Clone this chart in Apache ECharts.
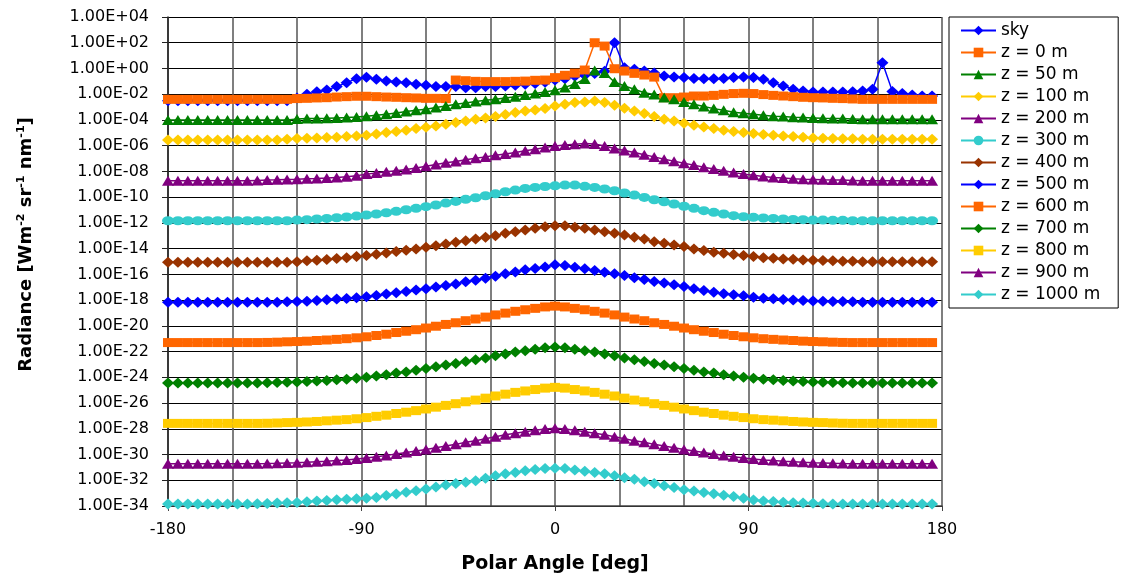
<!DOCTYPE html>
<html><head><meta charset="utf-8">
<script src="https://cdn.jsdelivr.net/npm/echarts@6/dist/echarts.min.js"></script>
<style>html,body{margin:0;padding:0;background:#fff}#c{width:1121px;height:579px}</style>
</head><body><div id="c"></div>
<script>
// Polar angle of every sample [deg]
const angles = [-180,-175.38,-170.77,-166.15,-161.54,-156.92,-152.31,-147.69,-143.08,-138.46,
-133.85,-129.23,-124.62,-120,-115.38,-110.77,-106.15,-101.54,-96.92,-92.31,
-87.69,-83.08,-78.46,-73.85,-69.23,-64.62,-60,-55.38,-50.77,-46.15,
-41.54,-36.92,-32.31,-27.69,-23.08,-18.46,-13.85,-9.23,-4.62,0,
4.62,9.23,13.85,18.46,23.08,27.69,32.31,36.92,41.54,46.15,
50.77,55.38,60,64.62,69.23,73.85,78.46,83.08,87.69,92.31,
96.92,101.54,106.15,110.77,115.38,120,124.62,129.23,133.85,138.46,
143.08,147.69,152.31,156.92,161.54,166.15,170.77,175.38];

// Radiance values, stored as log10(radiance [W m-2 sr-1 nm-1])
const sky = [-2.50,-2.50,-2.50,-2.50,-2.50,-2.50,-2.50,-2.50,-2.50,-2.50,
-2.50,-2.50,-2.50,-2.30,-2.01,-1.80,-1.67,-1.41,-1.10,-0.79,
-0.69,-0.84,-0.98,-1.05,-1.10,-1.23,-1.31,-1.41,-1.41,-1.41,
-1.49,-1.49,-1.41,-1.41,-1.36,-1.31,-1.23,-1.16,-1.08,-0.90,
-0.79,-0.61,-0.53,-0.40,-0.22,2.00,0.06,-0.07,-0.20,-0.36,
-0.59,-0.67,-0.71,-0.77,-0.79,-0.79,-0.77,-0.71,-0.67,-0.71,
-0.84,-1.10,-1.36,-1.62,-1.75,-1.83,-1.83,-1.83,-1.83,-1.80,
-1.75,-1.62,0.45,-1.78,-1.95,-2.06,-2.14,-2.14];
const z0 = [-2.40,-2.40,-2.40,-2.40,-2.40,-2.40,-2.40,-2.40,-2.40,-2.40,
-2.40,-2.40,-2.40,-2.34,-2.32,-2.29,-2.27,-2.22,-2.19,-2.16,
-2.16,-2.19,-2.22,-2.24,-2.27,-2.29,-2.32,-2.32,-2.34,-0.90,
-0.95,-1.00,-1.02,-1.02,-1.02,-1.00,-0.98,-0.92,-0.90,-0.71,
-0.53,-0.36,-0.12,2.00,1.74,-0.02,-0.20,-0.38,-0.51,-0.67,
-2.27,-2.27,-2.22,-2.14,-2.14,-2.09,-2.01,-1.95,-1.93,-1.95,
-2.03,-2.09,-2.14,-2.19,-2.24,-2.27,-2.29,-2.32,-2.34,-2.37,
-2.40,-2.40,-2.40,-2.40,-2.40,-2.40,-2.40,-2.40];
const z50 = [-4.00,-4.00,-4.00,-4.00,-4.00,-4.00,-4.00,-4.00,-4.00,-4.00,
-4.00,-4.00,-4.00,-3.92,-3.89,-3.89,-3.87,-3.84,-3.81,-3.77,
-3.71,-3.64,-3.56,-3.46,-3.35,-3.25,-3.17,-3.04,-2.91,-2.78,
-2.68,-2.57,-2.47,-2.40,-2.29,-2.19,-2.06,-1.95,-1.83,-1.70,
-1.47,-1.21,-0.82,-0.15,-0.36,-1.05,-1.36,-1.62,-1.88,-2.03,
-2.26,-2.40,-2.60,-2.78,-2.96,-3.12,-3.25,-3.40,-3.48,-3.56,
-3.64,-3.71,-3.74,-3.79,-3.81,-3.84,-3.87,-3.89,-3.89,-3.92,
-3.95,-3.95,-3.95,-3.95,-3.95,-3.95,-3.95,-3.95];
const z100 = [-5.55,-5.55,-5.55,-5.55,-5.55,-5.55,-5.55,-5.55,-5.55,-5.55,
-5.55,-5.55,-5.50,-5.44,-5.42,-5.40,-5.36,-5.34,-5.29,-5.24,
-5.19,-5.09,-4.98,-4.90,-4.80,-4.67,-4.57,-4.47,-4.33,-4.20,
-4.08,-3.95,-3.84,-3.74,-3.58,-3.43,-3.30,-3.22,-3.12,-2.91,
-2.78,-2.65,-2.60,-2.53,-2.65,-2.86,-3.09,-3.30,-3.50,-3.74,
-3.95,-4.08,-4.26,-4.41,-4.54,-4.67,-4.80,-4.90,-4.98,-5.06,
-5.13,-5.19,-5.24,-5.29,-5.34,-5.40,-5.42,-5.44,-5.47,-5.47,
-5.50,-5.50,-5.50,-5.50,-5.50,-5.50,-5.50,-5.50];
const z200 = [-8.73,-8.73,-8.73,-8.73,-8.73,-8.73,-8.73,-8.73,-8.73,-8.70,
-8.67,-8.65,-8.62,-8.60,-8.57,-8.55,-8.52,-8.47,-8.42,-8.34,
-8.21,-8.13,-8.03,-7.95,-7.85,-7.74,-7.59,-7.46,-7.33,-7.23,
-7.10,-6.97,-6.87,-6.74,-6.64,-6.53,-6.40,-6.27,-6.14,-6.02,
-5.94,-5.88,-5.83,-5.86,-6.02,-6.22,-6.37,-6.53,-6.71,-6.87,
-7.05,-7.20,-7.36,-7.51,-7.67,-7.82,-7.95,-8.08,-8.21,-8.29,
-8.39,-8.47,-8.52,-8.57,-8.60,-8.62,-8.65,-8.67,-8.67,-8.70,
-8.73,-8.73,-8.73,-8.73,-8.73,-8.73,-8.73,-8.73];
const z300 = [-11.83,-11.83,-11.83,-11.83,-11.83,-11.83,-11.83,-11.83,-11.83,-11.83,
-11.83,-11.83,-11.83,-11.78,-11.75,-11.70,-11.65,-11.60,-11.54,-11.47,
-11.39,-11.31,-11.21,-11.10,-10.98,-10.87,-10.74,-10.61,-10.46,-10.33,
-10.17,-10.05,-9.89,-9.74,-9.58,-9.45,-9.32,-9.24,-9.17,-9.12,
-9.06,-9.06,-9.16,-9.24,-9.37,-9.50,-9.68,-9.84,-10.02,-10.20,
-10.36,-10.53,-10.71,-10.87,-11.05,-11.18,-11.31,-11.44,-11.52,-11.57,
-11.62,-11.65,-11.70,-11.73,-11.75,-11.78,-11.78,-11.80,-11.80,-11.83,
-11.83,-11.83,-11.83,-11.83,-11.83,-11.83,-11.83,-11.83];
const z400 = [-15.06,-15.06,-15.06,-15.06,-15.06,-15.06,-15.06,-15.06,-15.06,-15.06,
-15.06,-15.06,-15.06,-15.01,-14.95,-14.90,-14.85,-14.77,-14.70,-14.62,
-14.54,-14.44,-14.33,-14.23,-14.12,-14.02,-13.89,-13.77,-13.64,-13.50,
-13.38,-13.25,-13.12,-12.99,-12.81,-12.68,-12.55,-12.42,-12.29,-12.22,
-12.22,-12.34,-12.42,-12.55,-12.68,-12.81,-12.94,-13.12,-13.25,-13.46,
-13.58,-13.71,-13.84,-14.02,-14.15,-14.28,-14.36,-14.46,-14.54,-14.62,
-14.70,-14.75,-14.80,-14.82,-14.88,-14.90,-14.93,-14.95,-14.98,-14.98,
-15.01,-15.01,-15.01,-15.01,-15.01,-15.01,-15.01,-15.01];
const z500 = [-18.16,-18.16,-18.16,-18.16,-18.16,-18.16,-18.16,-18.16,-18.16,-18.16,
-18.16,-18.16,-18.13,-18.11,-18.08,-18.03,-17.98,-17.92,-17.87,-17.82,
-17.74,-17.64,-17.53,-17.43,-17.33,-17.22,-17.12,-16.99,-16.87,-16.74,
-16.58,-16.45,-16.30,-16.14,-15.96,-15.81,-15.65,-15.55,-15.43,-15.26,
-15.32,-15.44,-15.57,-15.70,-15.83,-15.96,-16.09,-16.27,-16.40,-16.56,
-16.68,-16.81,-16.95,-17.12,-17.25,-17.38,-17.51,-17.59,-17.67,-17.77,
-17.85,-17.90,-17.95,-18.00,-18.03,-18.06,-18.08,-18.11,-18.11,-18.13,
-18.16,-18.16,-18.16,-18.16,-18.16,-18.16,-18.16,-18.16];
const z600 = [-21.30,-21.30,-21.30,-21.30,-21.30,-21.30,-21.30,-21.30,-21.30,-21.30,
-21.29,-21.27,-21.24,-21.22,-21.19,-21.14,-21.10,-21.05,-21.00,-20.93,
-20.85,-20.75,-20.65,-20.52,-20.42,-20.30,-20.17,-20.03,-19.89,-19.76,
-19.60,-19.47,-19.32,-19.15,-19.01,-18.87,-18.75,-18.64,-18.53,-18.47,
-18.53,-18.64,-18.75,-18.87,-19.01,-19.15,-19.32,-19.47,-19.60,-19.76,
-19.89,-20.03,-20.17,-20.30,-20.42,-20.52,-20.65,-20.75,-20.85,-20.93,
-21.00,-21.05,-21.10,-21.14,-21.19,-21.22,-21.24,-21.27,-21.29,-21.30,
-21.30,-21.30,-21.30,-21.30,-21.30,-21.30,-21.30,-21.30];
const z700 = [-24.44,-24.44,-24.44,-24.44,-24.44,-24.44,-24.44,-24.44,-24.44,-24.44,
-24.43,-24.41,-24.38,-24.36,-24.33,-24.29,-24.25,-24.19,-24.15,-24.08,
-23.99,-23.90,-23.80,-23.67,-23.58,-23.45,-23.32,-23.18,-23.05,-22.92,
-22.77,-22.64,-22.49,-22.32,-22.18,-22.04,-21.93,-21.82,-21.71,-21.65,
-21.71,-21.82,-21.93,-22.04,-22.18,-22.32,-22.49,-22.64,-22.77,-22.92,
-23.05,-23.18,-23.32,-23.45,-23.58,-23.67,-23.80,-23.90,-23.99,-24.08,
-24.15,-24.19,-24.25,-24.29,-24.33,-24.36,-24.38,-24.41,-24.43,-24.44,
-24.44,-24.44,-24.44,-24.44,-24.44,-24.44,-24.44,-24.44];
const z800 = [-27.58,-27.58,-27.58,-27.58,-27.58,-27.58,-27.58,-27.58,-27.58,-27.58,
-27.57,-27.55,-27.52,-27.50,-27.47,-27.43,-27.38,-27.33,-27.29,-27.22,
-27.13,-27.03,-26.94,-26.81,-26.71,-26.59,-26.46,-26.32,-26.18,-26.05,
-25.90,-25.77,-25.62,-25.45,-25.31,-25.17,-25.06,-24.95,-24.84,-24.78,
-24.84,-24.95,-25.06,-25.17,-25.31,-25.45,-25.62,-25.77,-25.90,-26.05,
-26.18,-26.32,-26.46,-26.59,-26.71,-26.81,-26.94,-27.03,-27.13,-27.22,
-27.29,-27.33,-27.38,-27.43,-27.47,-27.50,-27.52,-27.55,-27.57,-27.58,
-27.58,-27.58,-27.58,-27.58,-27.58,-27.58,-27.58,-27.58];
const z900 = [-30.71,-30.71,-30.71,-30.71,-30.71,-30.71,-30.71,-30.71,-30.71,-30.71,
-30.70,-30.68,-30.65,-30.63,-30.60,-30.56,-30.52,-30.46,-30.42,-30.35,
-30.27,-30.17,-30.08,-29.95,-29.85,-29.73,-29.61,-29.47,-29.33,-29.21,
-29.05,-28.93,-28.78,-28.61,-28.47,-28.34,-28.23,-28.12,-28.01,-27.95,
-28.01,-28.12,-28.23,-28.34,-28.47,-28.61,-28.78,-28.93,-29.05,-29.21,
-29.33,-29.47,-29.61,-29.73,-29.85,-29.95,-30.08,-30.17,-30.27,-30.35,
-30.42,-30.46,-30.52,-30.56,-30.60,-30.63,-30.65,-30.68,-30.70,-30.71,
-30.71,-30.71,-30.71,-30.71,-30.71,-30.71,-30.71,-30.71];
const z1000 = [-33.85,-33.85,-33.85,-33.85,-33.85,-33.85,-33.85,-33.85,-33.85,-33.82,
-33.80,-33.77,-33.75,-33.72,-33.67,-33.62,-33.57,-33.52,-33.47,-33.44,
-33.40,-33.33,-33.19,-33.07,-32.94,-32.81,-32.68,-32.53,-32.37,-32.26,
-32.16,-32.03,-31.85,-31.64,-31.49,-31.39,-31.26,-31.16,-31.08,-31.07,
-31.08,-31.21,-31.29,-31.39,-31.49,-31.64,-31.80,-31.93,-32.11,-32.26,
-32.42,-32.57,-32.73,-32.84,-32.96,-33.04,-33.17,-33.27,-33.40,-33.53,
-33.61,-33.66,-33.71,-33.74,-33.77,-33.79,-33.82,-33.85,-33.85,-33.85,
-33.85,-33.85,-33.85,-33.85,-33.85,-33.85,-33.85,-33.85];

const seriesNames = ['sky','z = 0 m','z = 50 m','z = 100 m','z = 200 m','z = 300 m','z = 400 m',
  'z = 500 m','z = 600 m','z = 700 m','z = 800 m','z = 900 m','z = 1000 m'];
const seriesValues = [sky, z0, z50, z100, z200, z300, z400, z500, z600, z700, z800, z900, z1000];

// tick labels
const yTickLabels = ['1.00E-34','1.00E-32','1.00E-30','1.00E-28','1.00E-26','1.00E-24','1.00E-22',
  '1.00E-20','1.00E-18','1.00E-16','1.00E-14','1.00E-12','1.00E-10','1.00E-08','1.00E-06',
  '1.00E-04','1.00E-02','1.00E+00','1.00E+02','1.00E+04'];
const xTickLabels = ['-180','-90','0','90','180'];

// styles (kept separate from the data)
const seriesColors = ['#0000FF','#FF6600','#008000','#FFCC00','#800080','#33CCCC','#993300',
  '#0000FF','#FF6600','#008000','#FFCC00','#800080','#33CCCC'];
const seriesSymbols = ['diamond','rect','triangle','diamond','triangle','circle','diamond',
  'diamond','rect','diamond','rect','triangle','diamond'];
const symbolSizes = {diamond:[12,11], rect:[10,9], triangle:[12,10], circle:[12,9]};

const FONT = 'DejaVu Sans';
const chart = echarts.init(document.getElementById('c'), null, {renderer:'canvas'});
const series = seriesValues.map((vals, k) => ({
  name: seriesNames[k],
  type: 'line',
  data: vals.map((v, i) => [angles[i], v]),
  symbol: seriesSymbols[k],
  symbolSize: symbolSizes[seriesSymbols[k]],
  showSymbol: true,
  showAllSymbol: true,
  itemStyle: {color: seriesColors[k], borderWidth: 0},
  lineStyle: {color: seriesColors[k], width: 1.5},
  emphasis: {disabled: true},
  animation: false
}));

chart.setOption({
  backgroundColor: '#ffffff',
  animation: false,
  grid: {left: 168, right: 179, top: 17, bottom: 71, containLabel: false},
  legend: {
    orient: 'vertical', left: 949, top: 17,
    padding: [5, 18, 5, 11],
    itemWidth: 35, itemHeight: 12, itemGap: 5,
    borderColor: '#000', borderWidth: 1, backgroundColor: '#fff',
    textStyle: {fontFamily: FONT, fontSize: 17, color: '#000', lineHeight: 17},
    data: seriesNames
  },
  xAxis: {
    type: 'value', min: -180, max: 180, interval: 90,
    name: 'Polar Angle [deg]', nameLocation: 'middle', nameGap: 49,
    nameTextStyle: {fontFamily: FONT, fontSize: 19, fontWeight: 'bold', color: '#000'},
    axisLine: {show: true, onZero: false, lineStyle: {color: '#444', width: 1.5}},
    axisTick: {show: true, inside: false, length: 5, lineStyle: {color: '#444'}},
    minorTick: {show: false, splitNumber: 3},
    splitLine: {show: true, lineStyle: {color: '#555', width: 1.5}},
    minorSplitLine: {show: true, lineStyle: {color: '#555', width: 1.5}},
    axisLabel: {
      margin: 16, fontFamily: FONT, fontSize: 16, color: '#000',
      formatter: v => xTickLabels[Math.round((v + 180) / 90)]
    }
  },
  yAxis: {
    type: 'value', min: -34, max: 4, interval: 2,
    name: '{a|Radiance [Wm}{s|-2}{a| sr}{s|-1}{a| nm}{s|-1}{a|]}',
    nameLocation: 'middle', nameRotate: 90, nameGap: 132,
    nameTextStyle: {
      fontFamily: FONT, fontSize: 18, fontWeight: 'bold', color: '#000',
      padding: [0, 0, 0, 34],
      rich: {
        a: {fontFamily: FONT, fontSize: 18, fontWeight: 'bold', color: '#000', lineHeight: 20},
        s: {fontFamily: FONT, fontSize: 11, fontWeight: 'bold', color: '#000', lineHeight: 11, verticalAlign: 'top'}
      }
    },
    axisLine: {show: true, onZero: false, lineStyle: {color: '#222', width: 1.5}},
    axisTick: {show: true, inside: false, length: 6, lineStyle: {color: '#222'}},
    splitLine: {show: true, lineStyle: {color: '#000', width: 1}},
    axisLabel: {
      margin: 19, fontFamily: FONT, fontSize: 16, color: '#000',
      formatter: v => yTickLabels[Math.round((v + 34) / 2)]
    }
  },
  series: series
});
</script></body></html>
